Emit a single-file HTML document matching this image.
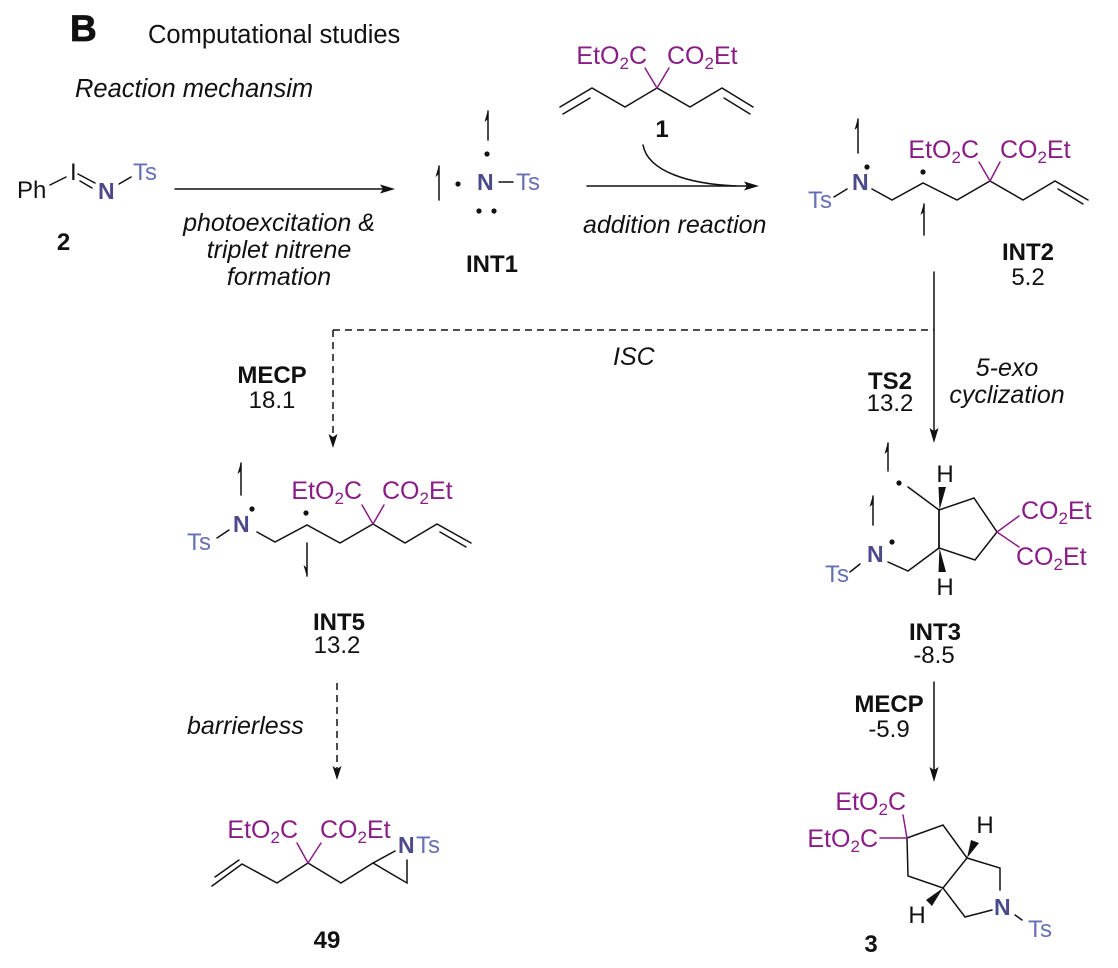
<!DOCTYPE html>
<html>
<head>
<meta charset="utf-8">
<style>
html,body{margin:0;padding:0;background:#fff;}
svg{display:block;}
text{font-family:"Liberation Sans",Arial,sans-serif;}
</style>
</head>
<body>
<svg width="1118" height="968" viewBox="0 0 1118 968" xmlns="http://www.w3.org/2000/svg">
<rect width="1118" height="968" fill="#fff"/>

<!-- Header -->
<text x="70" y="41" font-size="37" font-weight="bold" fill="#111" stroke="#111" stroke-width="0.8">B</text>
<text x="148" y="43" font-size="25.5" fill="#111">Computational studies</text>
<text x="75" y="97" font-size="25.5" font-style="italic" fill="#111">Reaction mechansim</text>

<g stroke="#111" stroke-width="1.5" fill="none" stroke-linecap="round">
  <!-- compound 2 bonds -->
  <line x1="50" y1="185" x2="66" y2="177"/>
  <line x1="78" y1="174" x2="95" y2="183"/>
  <line x1="80" y1="181" x2="92" y2="188"/>
  <line x1="119" y1="184" x2="131" y2="177"/>

  <!-- arrow 1 -->
  <line x1="175" y1="189" x2="385" y2="189"/>

  <!-- INT1 -->
  <line x1="488" y1="140" x2="488" y2="111"/>
  <line x1="439" y1="200" x2="439" y2="166"/>
  <line x1="499" y1="182" x2="513" y2="182"/>

  <!-- compound 1 -->
  <polyline points="560,107 592,88 625,107 657,88 690,107 722,88 753,107"/>
  <line x1="563" y1="114" x2="590" y2="98"/>
  <line x1="724" y1="98" x2="750" y2="114"/>
  <line x1="657" y1="88" x2="645" y2="68" stroke="#8A1C87"/>
  <line x1="657" y1="88" x2="669" y2="68" stroke="#8A1C87"/>

  <!-- arrow 2 -->
  <line x1="587" y1="186" x2="749" y2="186"/>
  <path d="M643,145 C648,172 690,184 736,186"/>

  <!-- INT2 -->
  <line x1="858" y1="153" x2="858" y2="119"/>
  <line x1="834" y1="197" x2="847" y2="189"/>
  <polyline points="872,189 892,200 923,183 957,200 990,181 1023,200 1055,181 1088,200"/>
  <line x1="1058" y1="189" x2="1083" y2="204"/>
  <line x1="990" y1="181" x2="979" y2="162" stroke="#8A1C87"/>
  <line x1="990" y1="181" x2="1000" y2="162" stroke="#8A1C87"/>
  <line x1="924" y1="235" x2="924" y2="204"/>

  <!-- vertical arrow INT2 -> INT3 -->
  <line x1="934" y1="272" x2="934" y2="433"/>

  <!-- ISC dashed -->
  <line x1="333" y1="330" x2="934" y2="330" stroke-dasharray="7 5" stroke-linecap="butt"/>
  <line x1="333" y1="330" x2="333" y2="440" stroke-dasharray="7 5" stroke-linecap="butt"/>

  <!-- INT5 -->
  <line x1="241" y1="495" x2="241" y2="463"/>
  <line x1="217" y1="538" x2="229" y2="530"/>
  <polyline points="257,532 275,542 307,525 340,543 373,524 405,543 437,524 471,543"/>
  <line x1="440" y1="532" x2="466" y2="547"/>
  <line x1="373" y1="524" x2="362" y2="505" stroke="#8A1C87"/>
  <line x1="373" y1="524" x2="384" y2="505" stroke="#8A1C87"/>
  <line x1="307" y1="543" x2="307" y2="576"/>

  <!-- barrierless dashed arrow -->
  <line x1="337" y1="683" x2="337" y2="770" stroke-dasharray="7 5" stroke-linecap="butt"/>

  <!-- 49 -->
  <polyline points="212,886 242,864 277,883 308,863 341,883 373,863 407,883 407,860"/>
  <line x1="215" y1="877" x2="239" y2="860"/>
  <line x1="373" y1="863" x2="395" y2="851"/>
  <line x1="308" y1="863" x2="297" y2="843" stroke="#8A1C87"/>
  <line x1="308" y1="863" x2="321" y2="843" stroke="#8A1C87"/>

  <!-- INT3 -->
  <line x1="888" y1="471" x2="888" y2="443"/>
  <line x1="873" y1="525" x2="873" y2="496"/>
  <line x1="908" y1="487" x2="939" y2="510"/>
  <line x1="850" y1="572" x2="860" y2="564"/>
  <polyline points="888,562 908,571 939,548"/>
  <polygon points="939,510 974,498 997,532 975,560 939,548"/>
  <line x1="939" y1="510" x2="939" y2="548"/>
  <line x1="997" y1="532" x2="1019" y2="516" stroke="#8A1C87"/>
  <line x1="997" y1="532" x2="1019" y2="547" stroke="#8A1C87"/>

  <!-- MECP arrow -->
  <line x1="934" y1="682" x2="934" y2="772"/>

  <!-- compound 3 -->
  <polygon points="907,838 943,825 967,858 943,888 908,876"/>
  <polyline points="967,858 1000,868 1000,890"/>
  <polyline points="992,910 965,917 943,888"/>
  <line x1="907" y1="838" x2="903" y2="815" stroke="#8A1C87"/>
  <line x1="880" y1="838" x2="907" y2="838" stroke="#8A1C87"/>
  <line x1="1015" y1="915" x2="1022" y2="920"/>
</g>

<!-- arrowheads, harpoon barbs, wedges, dots -->
<g fill="#111" stroke="none">
  <polygon points="395,189 380,184.5 383,189 380,193.5"/>
  <polygon points="759,186 744,181.5 747,186 744,190.5"/>
  <polygon points="934,443 929.5,428 934,431 938.5,428"/>
  <polygon points="333,448 328.5,434 333,437 337.5,434"/>
  <polygon points="337,780 332.5,766 337,769 341.5,766"/>
  <polygon points="934,782 929.5,767 934,770 938.5,767"/>

  <!-- harpoon barbs (up) -->
  <polygon points="488,110 484.5,122 488,119"/>
  <polygon points="439,165 435.5,177 439,174"/>
  <polygon points="858,118 854.5,130 858,127"/>
  <polygon points="924,203 920.5,215 924,212"/>
  <polygon points="241,462 237.5,474 241,471"/>
  <polygon points="888,442 884.5,454 888,451"/>
  <polygon points="873,495 869.5,507 873,504"/>
  <!-- harpoon barb (down) -->
  <polygon points="307,577 303.5,565 307,568"/>

  <!-- dots -->
  <circle cx="487" cy="154" r="2.6"/>
  <circle cx="458" cy="184" r="2.6"/>
  <circle cx="479" cy="211" r="2.6"/>
  <circle cx="494" cy="211" r="2.6"/>
  <circle cx="867" cy="167" r="2.6"/>
  <circle cx="923" cy="172" r="2.6"/>
  <circle cx="252" cy="509" r="2.6"/>
  <circle cx="306" cy="513" r="2.6"/>
  <circle cx="899" cy="483" r="2.6"/>
  <circle cx="892" cy="542" r="2.6"/>

  <!-- wedges -->
  <polygon points="939.5,510 938.5,487 946,487"/>
  <polygon points="939.5,548 938.5,572 946,572"/>
  <polygon points="967,858 971,840 979,843"/>
  <polygon points="943,888 926,900 932,906"/>
</g>

<!-- compound 2 text -->
<text x="17" y="198" font-size="24" fill="#111">Ph</text>
<text x="70" y="180" font-size="24" fill="#111">I</text>
<text x="98" y="199" font-size="23" font-weight="bold" fill="#4D4A8C">N</text>
<text x="133" y="180" font-size="24" fill="#6670B5">Ts</text>
<text x="63.5" y="250" font-size="24" font-weight="bold" fill="#111" text-anchor="middle">2</text>

<g font-size="25" font-style="italic" fill="#111" text-anchor="middle">
  <text x="279" y="231">photoexcitation &amp;</text>
  <text x="279" y="258">triplet nitrene</text>
  <text x="279" y="285">formation</text>
</g>

<!-- INT1 text -->
<text x="477" y="190" font-size="23" font-weight="bold" fill="#4D4A8C">N</text>
<text x="516" y="190" font-size="24" fill="#6670B5">Ts</text>
<text x="492" y="272" font-size="24" font-weight="bold" fill="#111" text-anchor="middle">INT1</text>

<!-- compound 1 text -->
<text x="647" y="64" font-size="25" fill="#8A1C87" text-anchor="end">EtO<tspan font-size="17" dy="5">2</tspan><tspan dy="-5">C</tspan></text>
<text x="667" y="64" font-size="25" fill="#8A1C87">CO<tspan font-size="17" dy="5">2</tspan><tspan dy="-5">Et</tspan></text>
<text x="662" y="137" font-size="24" font-weight="bold" fill="#111" text-anchor="middle">1</text>

<text x="583" y="233" font-size="25" font-style="italic" fill="#111">addition reaction</text>

<!-- INT2 text -->
<text x="852" y="190" font-size="23" font-weight="bold" fill="#4D4A8C">N</text>
<text x="808" y="208" font-size="24" fill="#6670B5">Ts</text>
<text x="979" y="158" font-size="25" fill="#8A1C87" text-anchor="end">EtO<tspan font-size="17" dy="5">2</tspan><tspan dy="-5">C</tspan></text>
<text x="1000" y="158" font-size="25" fill="#8A1C87">CO<tspan font-size="17" dy="5">2</tspan><tspan dy="-5">Et</tspan></text>
<text x="1028" y="260" font-size="24" font-weight="bold" fill="#111" text-anchor="middle">INT2</text>
<text x="1028" y="285" font-size="24" fill="#111" text-anchor="middle">5.2</text>

<!-- middle labels -->
<text x="613" y="365" font-size="25" font-style="italic" fill="#111">ISC</text>
<text x="272" y="383" font-size="24" font-weight="bold" fill="#111" text-anchor="middle">MECP</text>
<text x="272" y="408" font-size="24" fill="#111" text-anchor="middle">18.1</text>
<text x="890" y="389" font-size="24" font-weight="bold" fill="#111" text-anchor="middle">TS2</text>
<text x="890" y="411" font-size="24" fill="#111" text-anchor="middle">13.2</text>
<text x="1007" y="376" font-size="25" font-style="italic" fill="#111" text-anchor="middle">5-exo</text>
<text x="1007" y="403" font-size="25" font-style="italic" fill="#111" text-anchor="middle">cyclization</text>

<!-- INT5 text -->
<text x="233" y="532" font-size="23" font-weight="bold" fill="#4D4A8C">N</text>
<text x="187" y="550" font-size="24" fill="#6670B5">Ts</text>
<text x="362" y="499" font-size="25" fill="#8A1C87" text-anchor="end">EtO<tspan font-size="17" dy="5">2</tspan><tspan dy="-5">C</tspan></text>
<text x="382" y="499" font-size="25" fill="#8A1C87">CO<tspan font-size="17" dy="5">2</tspan><tspan dy="-5">Et</tspan></text>
<text x="339" y="630" font-size="24" font-weight="bold" fill="#111" text-anchor="middle">INT5</text>
<text x="337" y="653" font-size="24" fill="#111" text-anchor="middle">13.2</text>

<text x="187" y="734" font-size="25" font-style="italic" fill="#111">barrierless</text>

<!-- 49 text -->
<text x="298" y="838" font-size="25" fill="#8A1C87" text-anchor="end">EtO<tspan font-size="17" dy="5">2</tspan><tspan dy="-5">C</tspan></text>
<text x="320" y="838" font-size="25" fill="#8A1C87">CO<tspan font-size="17" dy="5">2</tspan><tspan dy="-5">Et</tspan></text>
<text x="398" y="853" font-size="23" font-weight="bold" fill="#4D4A8C">N</text>
<text x="416" y="853" font-size="24" fill="#6670B5">Ts</text>
<text x="327" y="948" font-size="24" font-weight="bold" fill="#111" text-anchor="middle">49</text>

<!-- INT3 text -->
<text x="867" y="562" font-size="23" font-weight="bold" fill="#4D4A8C">N</text>
<text x="825" y="582" font-size="24" fill="#6670B5">Ts</text>
<text x="945" y="482" font-size="24" fill="#111" text-anchor="middle">H</text>
<text x="945" y="595" font-size="24" fill="#111" text-anchor="middle">H</text>
<text x="1021" y="519" font-size="25" fill="#8A1C87">CO<tspan font-size="17" dy="5">2</tspan><tspan dy="-5">Et</tspan></text>
<text x="1016" y="565" font-size="25" fill="#8A1C87">CO<tspan font-size="17" dy="5">2</tspan><tspan dy="-5">Et</tspan></text>
<text x="935" y="640" font-size="24" font-weight="bold" fill="#111" text-anchor="middle">INT3</text>
<text x="934" y="663" font-size="24" fill="#111" text-anchor="middle">-8.5</text>

<!-- MECP -5.9 -->
<text x="889" y="712" font-size="24" font-weight="bold" fill="#111" text-anchor="middle">MECP</text>
<text x="889" y="737" font-size="24" fill="#111" text-anchor="middle">-5.9</text>

<!-- compound 3 text -->
<text x="906" y="810" font-size="25" fill="#8A1C87" text-anchor="end">EtO<tspan font-size="17" dy="5">2</tspan><tspan dy="-5">C</tspan></text>
<text x="878" y="847" font-size="25" fill="#8A1C87" text-anchor="end">EtO<tspan font-size="17" dy="5">2</tspan><tspan dy="-5">C</tspan></text>
<text x="985" y="833" font-size="24" fill="#111" text-anchor="middle">H</text>
<text x="917" y="923" font-size="24" fill="#111" text-anchor="middle">H</text>
<text x="994" y="915" font-size="23" font-weight="bold" fill="#4D4A8C">N</text>
<text x="1028" y="937" font-size="24" fill="#6670B5">Ts</text>
<text x="871" y="952" font-size="24" font-weight="bold" fill="#111" text-anchor="middle">3</text>
</svg>
</body>
</html>
